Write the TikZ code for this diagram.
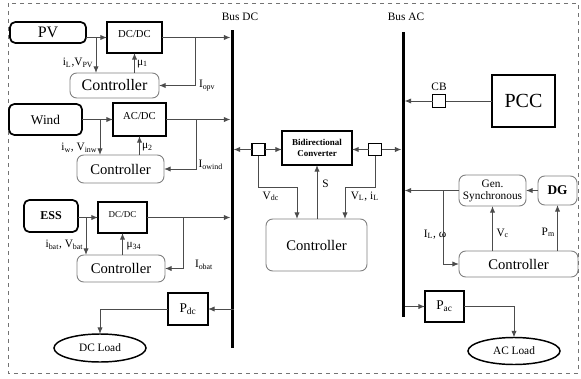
\documentclass[tikz,border=0pt]{standalone}
\usepackage{fontspec}
\setmainfont{Liberation Serif}
\setsansfont{Liberation Serif}
\newfontfamily\diagfont{Liberation Serif}
\usetikzlibrary{arrows.meta,positioning,shapes.geometric}

\newcommand{\sz}[1]{\diagfont\fontsize{#1}{#1}\selectfont}

\begin{document}
\begin{tikzpicture}[
    x=0.75pt, y=-0.75pt,
    every node/.style={inner sep=0pt, outer sep=0pt},
    srcbox/.style={draw, line width=1.3pt, rounded corners=4pt, align=center},
    convbox/.style={draw, line width=1pt, align=center, text height=6pt, text depth=6pt},
    ctrlbox/.style={draw=black!50, line width=0.7pt, rounded corners=5pt, align=center},
    plainbox/.style={draw, line width=0.9pt, align=center},
    swbox/.style={draw, line width=0.9pt, minimum width=9.75pt, minimum height=9.5pt},
    load/.style={draw, ellipse, line width=1.1pt, font=\sz{8.5}},
    bus/.style={fill=black, minimum width=2.25pt},
    conn/.style={draw=black!70, line width=0.7pt, -{Latex[length=5pt,width=4pt]}},
    wire/.style={draw=black!70, line width=0.7pt},
    lbl/.style={font=\sz{8.5}}
]
\useasboundingbox (0,0) rectangle (581,378);
\draw[dashed, black!55, line width=0.6pt] (8,3) rectangle (578,373);

% buses
\node[bus, minimum height=238.5pt] (busdc) at (232,189) {};
\node[bus, minimum height=213.75pt] (busac) at (403,174.5) {};
\node[lbl] (busdclbl) at (240,17) {Bus DC};
\node[lbl] (busaclbl) at (406,17) {Bus AC};

% PV branch
\node[srcbox, minimum width=57pt, minimum height=15.75pt, font=\sz{12}] (pv) at (48,32.5) {PV};
\node[convbox, minimum width=41.25pt, minimum height=23.25pt, font=\sz{8}] (dcdcpv) at (134.5,37.5) {DC/DC};
\node[ctrlbox, minimum width=66.75pt, minimum height=18.75pt, font=\sz{12}] (ctrlpv) at (114.5,85.5) {Controller};
\coordinate (pvtap) at (96,37.5);
\coordinate (opvtap) at (195,37.5);

% Wind branch
\node[srcbox, minimum width=54.75pt, minimum height=23.25pt, font=\sz{10}] (wind) at (45.5,119.5) {Wind};
\node[convbox, minimum width=39.75pt, minimum height=24.75pt, font=\sz{8}] (acdc) at (139.5,119.5) {AC/DC};
\node[ctrlbox, minimum width=65.25pt, minimum height=21pt, font=\sz{11}] (ctrlwind) at (120.5,169) {Controller};
\coordinate (wtap) at (100,119.5);
\coordinate (owtap) at (196,119.5);

% ESS branch
\node[srcbox, minimum width=40.5pt, minimum height=24pt, font=\sz{9}\bfseries] (ess) at (51,216) {ESS};
\node[convbox, minimum width=36.75pt, minimum height=23.25pt, font=\sz{6.75}] (dcdcess) at (122.5,217.5) {DC/DC};
\node[ctrlbox, minimum width=66pt, minimum height=20.25pt, font=\sz{11}] (ctrlbat) at (121,268.5) {Controller};
\coordinate (etap) at (86,217.5);
\coordinate (obtap) at (183,217.5);

% DC load
\node[plainbox, minimum width=30pt, minimum height=24pt, font=\sz{10}] (pdc) at (188,309) {P\textsubscript{dc}};
\node[load, minimum width=69pt, minimum height=21pt] (dcload) at (100,348) {DC Load};

% bidirectional link
\node[swbox] (swdc) at (258.5,149.5) {};
\node[swbox] (swac) at (375,149.5) {};
\node[plainbox, minimum width=52.5pt, minimum height=25.5pt, font=\diagfont\fontsize{6.75}{8.25}\selectfont\bfseries] (bidir) at (317,148) {Bidirectional\\Converter};
\node[ctrlbox, minimum width=75.75pt, minimum height=39pt, font=\sz{11}] (ctrlbi) at (316.5,245) {Controller};
\coordinate (vdcbend) at (297,187);
\coordinate (vlbend) at (345,187);

% AC side
\node[plainbox, minimum width=47.25pt, minimum height=39pt, font=\sz{15}] (pcc) at (523.5,101) {PCC};
\node[swbox, label={[lbl, label distance=3pt]above:CB}] (cb) at (439,101) {};
\node[ctrlbox, minimum width=50.25pt, minimum height=23.25pt, font=\diagfont\fontsize{8.5}{9}\selectfont] (gens) at (492.5,190.5) {Gen.\\Synchronous};
\node[ctrlbox, minimum width=29.25pt, minimum height=21.75pt, font=\sz{10}\bfseries] (dg) at (557.5,190.5) {DG};
\node[ctrlbox, minimum width=89.25pt, minimum height=19.5pt, font=\sz{11}] (ctrlac) at (518.5,264) {Controller};
\coordinate (gtap) at (443,190.5);
\node[plainbox, minimum width=29.25pt, minimum height=23.25pt, font=\sz{10}] (pac) at (444.5,306.5) {P\textsubscript{ac}};
\node[load, minimum width=69pt, minimum height=20.25pt] (acload) at (514,351) {AC Load};

% PV connections
\draw[conn] (pv.east |- dcdcpv.west) -- (dcdcpv.west);
\draw[conn] (pvtap) -- node[lbl, pos=0.72, left=2pt] {i\textsubscript{L},V\textsubscript{PV}} (pvtap |- ctrlpv.north);
\draw[conn] (ctrlpv.north -| dcdcpv.south) -- node[lbl, pos=0.45, right=2pt] {μ\textsubscript{1}} (dcdcpv.south);
\draw[conn] (dcdcpv.east) -- (dcdcpv.east -| busdc.west);
\draw[conn] (opvtap) |- node[lbl, pos=0.5, right=3pt] {I\textsubscript{opv}} (ctrlpv.east);

% Wind connections
\draw[conn] (wind.east |- acdc.west) -- (acdc.west);
\draw[conn] (wtap) -- node[lbl, pos=0.8, left=2pt] {i\textsubscript{w}, V\textsubscript{inw}} (wtap |- ctrlwind.north);
\draw[conn] (ctrlwind.north -| acdc.south) -- node[lbl, pos=0.4, right=2pt] {μ\textsubscript{2}} (acdc.south);
\draw[conn] (acdc.east) -- (acdc.east -| busdc.west);
\draw[conn] (owtap) |- node[lbl, pos=0.5, right=2pt, yshift=3pt] {I\textsubscript{owind}} (ctrlwind.east);

% ESS connections
\draw[conn] (ess.east |- dcdcess.west) -- (dcdcess.west);
\draw[conn] (etap) -- node[lbl, pos=0.73, left=2pt] {i\textsubscript{bat}, V\textsubscript{bat}} (etap |- ctrlbat.north);
\draw[conn] (ctrlbat.north -| dcdcess.south) -- node[lbl, pos=0.4, right=3pt] {μ\textsubscript{34}} (dcdcess.south);
\draw[conn] (dcdcess.east) -- (dcdcess.east -| busdc.west);
\draw[conn] (obtap) |- node[lbl, pos=0.5, right=9pt, yshift=3pt] {I\textsubscript{obat}} (ctrlbat.east);

% DC load
\draw[conn] (pdc.east -| busdc.east) -- (pdc.east);
\draw[conn] (pdc.west) -| (dcload.north);

% bidirectional converter
\draw[conn] (swdc.west) -- (swdc.west -| busdc.east);
\draw[conn] (swdc.east) -- (swdc.east -| bidir.west);
\draw[conn] (swac.west) -- (swac.west -| bidir.east);
\draw[conn] (swac.east) -- (swac.east -| busac.west);
\draw[conn] (swdc.south) |- node[lbl, pos=0.66, below=3.5pt] {V\textsubscript{dc}} (vdcbend) -- (vdcbend |- ctrlbi.north);
\draw[conn] (ctrlbi.north -| bidir.south) -- node[lbl, pos=0.65, right=4pt] {S} (bidir.south);
\draw[conn] (swac.south) |- node[lbl, pos=0.67, below=3.5pt] {V\textsubscript{L}, i\textsubscript{L}} (vlbend) -- (vlbend |- ctrlbi.north);

% AC side
\draw[wire] (pcc.west) -- (cb.east);
\draw[conn] (cb.west) -- (cb.west -| busac.east);
\draw[conn] (dg.west) -- (gens.east);
\draw[conn] (gens.west) -- (gens.west -| busac.east);
\draw[conn] (gtap) |- node[lbl, pos=0.3, xshift=-6pt] {I\textsubscript{L}, ω} (ctrlac.west);
\draw[conn] (ctrlac.north -| gens.south) -- node[lbl, pos=0.4, right=3pt] {V\textsubscript{c}} (gens.south);
\draw[conn] (ctrlac.north -| dg.south) -- node[lbl, pos=0.4, left=2pt] {P\textsubscript{m}} (dg.south);
\draw[conn] (busac.east |- pac.west) -- (pac.west);
\draw[conn] (pac.east) -| (acload.north);

\end{tikzpicture}
\end{document}
